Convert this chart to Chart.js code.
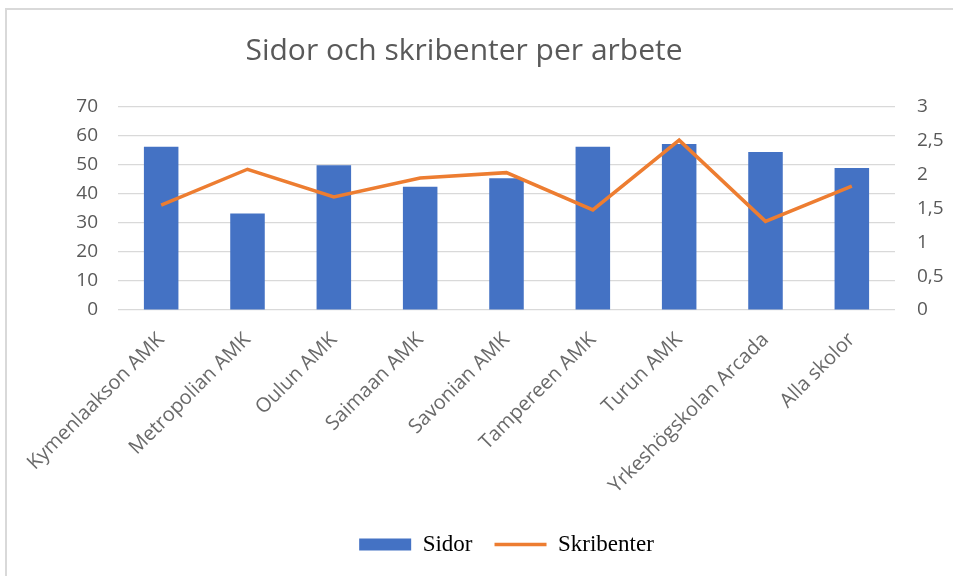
<!DOCTYPE html>
<html>
<head>
<meta charset="utf-8">
<script src="https://cdn.jsdelivr.net/npm/chart.js@4"></script>
<style>
  html, body { margin: 0; padding: 0; background: #fff; }
  #wrap { position: relative; width: 953px; height: 576px; overflow: hidden; }
  #frame { position: absolute; left: 5px; top: 8px; width: 1000px; height: 1000px;
           border-left: 2px solid #d9d9d9; border-top: 2px solid #d9d9d9; }
  canvas { position: absolute; left: 0; top: 0; }
</style>
</head>
<body>
<div id="wrap">
  <div id="frame"></div>
  <canvas id="c" width="953" height="576"></canvas>
</div>
<script>
const categories = ["Kymenlaakson AMK", "Metropolian AMK", "Oulun AMK", "Saimaan AMK", "Savonian AMK",
                    "Tampereen AMK", "Turun AMK", "Yrkeshögskolan Arcada", "Alla skolor"];
const sidor = [56.3, 33.3, 49.9, 42.5, 45.4, 56.3, 57.2, 54.5, 49.0];
const skribenter = [1.55, 2.08, 1.67, 1.95, 2.03, 1.48, 2.51, 1.31, 1.83];
const leftTicks = [0, 10, 20, 30, 40, 50, 60, 70];
const rightTicks = ["0", "0,5", "1", "1,5", "2", "2,5", "3"];
const titleText = "Sidor och skribenter per arbete";
const seriesNames = ["Sidor", "Skribenter"];

const BLUE = "#4472C4", ORANGE = "#ED7D31", GREY = "#595959", GRID = "#d9d9d9";

const titleShift = {
  id: "titleShift",
  afterLayout(chart) {
    const t = chart.titleBlock;
    if (t) { t.left -= 16.5; t.right -= 16.5; }
  }
};

new Chart(document.getElementById("c"), {
  data: {
    labels: categories,
    datasets: [
      { type: "line", label: seriesNames[1], data: skribenter, yAxisID: "y2",
        borderColor: ORANGE, backgroundColor: ORANGE, borderWidth: 3.5,
        pointRadius: 0, pointHoverRadius: 0, tension: 0, order: 0 },
      { type: "bar", label: seriesNames[0], data: sidor, yAxisID: "y",
        backgroundColor: BLUE, borderWidth: 0, categoryPercentage: 1.0, barPercentage: 0.4, order: 1 }
    ]
  },
  plugins: [titleShift],
  options: {
    responsive: false,
    animation: false,
    layout: { padding: { left: 8, right: 0, top: 16, bottom: 10 } },
    plugins: {
      tooltip: { enabled: false },
      title: { display: true, text: titleText, color: GREY,
               font: { family: "Open Sans", size: 30, weight: "normal" },
               padding: { top: 17, bottom: 38 } },
      legend: {
        position: "bottom",
        fullSize: false,
        labels: {
          usePointStyle: true, pointStyleWidth: 52, boxHeight: 12, padding: 22,
          color: "#000", font: { family: "Liberation Serif", size: 23 },
          generateLabels: function(chart) {
            return [
              { text: seriesNames[0], fillStyle: BLUE, strokeStyle: BLUE, lineWidth: 0,
                pointStyle: "rect", datasetIndex: 1, hidden: false, fontColor: "#000" },
              { text: seriesNames[1], fillStyle: ORANGE, strokeStyle: ORANGE, lineWidth: 3.5,
                pointStyle: "line", datasetIndex: 0, hidden: false, fontColor: "#000" }
            ];
          }
        }
      }
    },
    scales: {
      x: {
        grid: { display: false },
        border: { display: false },
        ticks: { color: "#6a6a6a", minRotation: 45, maxRotation: 45, autoSkip: false,
                 font: { family: "Open Sans", size: 20 }, padding: 10 },
        afterFit: function(s) { s.height = 201; }
      },
      y: {
        position: "left", min: 0, max: 70,
        afterBuildTicks: function(s) { s.ticks = leftTicks.map(v => ({ value: v })); },
        grid: { color: GRID, lineWidth: 1.2, drawTicks: false },
        border: { display: false },
        ticks: { color: GREY, padding: 20, font: { family: "Open Sans", size: 19 } },
        afterFit: function(s) { s.width = 110; }
      },
      y2: {
        position: "right", min: 0, max: 3,
        afterBuildTicks: function(s) { s.ticks = rightTicks.map(v => ({ value: parseFloat(v.replace(",", ".")) })); },
        grid: { display: false, drawTicks: false },
        border: { display: false },
        ticks: { color: GREY, padding: 22, font: { family: "Open Sans", size: 19 },
                 callback: function(v, i) { return rightTicks[i]; } },
        afterFit: function(s) { s.width = 58; }
      }
    }
  }
});
</script>
</body>
</html>
